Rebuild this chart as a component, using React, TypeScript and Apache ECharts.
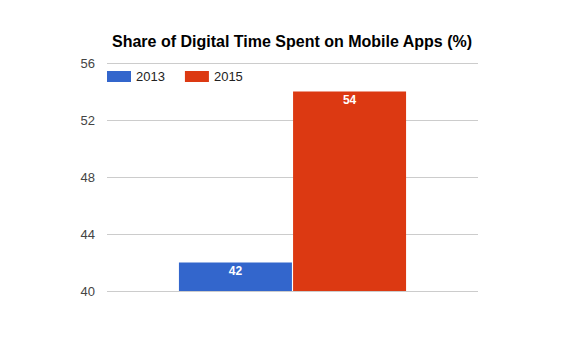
import React, { useEffect, useRef } from "react";
import * as echarts from "echarts";

const categories = ["Share"];
const seriesNames = ["2013", "2015"];
const values2013 = [42];
const values2015 = [54];
const yTicks = { min: 40, max: 56, interval: 4 };

export default function App() {
  const ref = useRef<HTMLDivElement>(null);
  useEffect(() => {
    if (!ref.current) return;
    const chart = echarts.init(ref.current, null, { renderer: "svg" });
    const labelStyle = {
      show: true,
      position: "insideTop",
      distance: 2,
      color: "#ffffff",
      fontWeight: "bold",
      fontSize: 12,
      fontFamily: "Liberation Sans, Arial, sans-serif",
    };
    chart.setOption({
      animation: false,
      backgroundColor: "#ffffff",
      title: {
        text: "Share of Digital Time Spent on Mobile Apps (%)",
        left: 279,
        textAlign: "center",
        top: 20,
        textStyle: {
          fontFamily: "Liberation Sans, Arial, sans-serif",
          fontWeight: "bold",
          fontSize: 16,
          color: "#000000",
        },
      },
      legend: {
        left: 99,
        top: 62,
        itemWidth: 24,
        itemHeight: 11,
        itemGap: 20,
        icon: "rect",
        textStyle: {
          fontFamily: "Liberation Sans, Arial, sans-serif",
          fontSize: 13,
          color: "#222222",
          padding: [0, 0, 0, 0],
        },
        padding: 0,
        data: seriesNames,
      },
      grid: { left: 99, right: 100, top: 55, bottom: 57, containLabel: false },
      xAxis: {
        type: "category",
        data: categories,
        axisLine: { show: false },
        axisTick: { show: false },
        axisLabel: { show: false },
      },
      yAxis: {
        type: "value",
        min: yTicks.min,
        max: yTicks.max,
        interval: yTicks.interval,
        axisLine: { show: false },
        axisTick: { show: false },
        splitLine: { lineStyle: { color: "#cccccc", width: 1 } },
        axisLabel: {
          margin: 12,
          fontFamily: "Liberation Sans, Arial, sans-serif",
          fontSize: 13,
          color: "#444444",
        },
      },
      series: [
        {
          name: seriesNames[0],
          type: "bar",
          data: values2013,
          barWidth: 113,
          barGap: "1%",
          itemStyle: { color: "#3366cc" },
          label: labelStyle,
        },
        {
          name: seriesNames[1],
          type: "bar",
          data: values2015,
          barWidth: 113,
          barGap: "1%",
          itemStyle: { color: "#dc3912" },
          label: labelStyle,
        },
      ],
    });
    return () => chart.dispose();
  }, []);
  return <div ref={ref} style={{ width: 570, height: 340 }} />;
}
